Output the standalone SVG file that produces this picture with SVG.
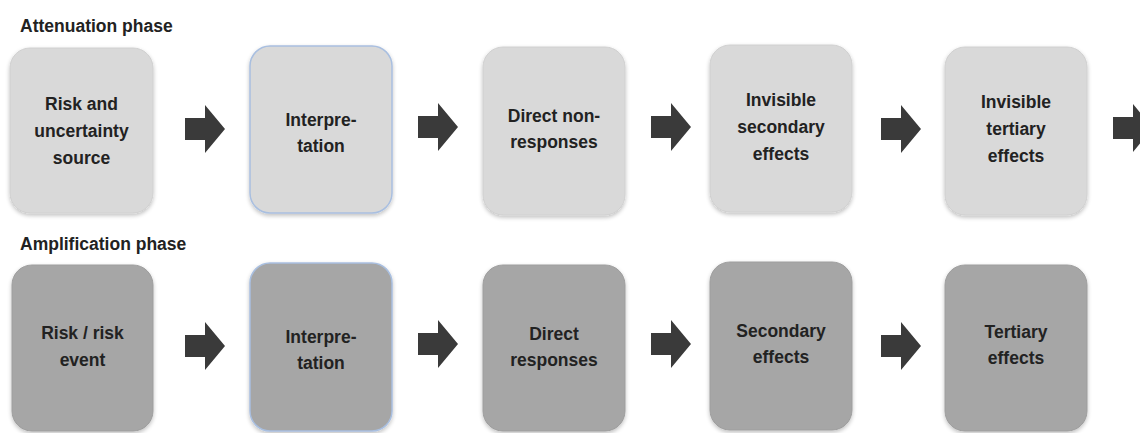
<svg xmlns="http://www.w3.org/2000/svg" width="1140" height="433" viewBox="0 0 1140 433">
<defs>
<filter id="sh" x="-10%" y="-10%" width="120%" height="125%">
<feGaussianBlur in="SourceAlpha" stdDeviation="2"/>
<feOffset dx="0" dy="2" result="b"/>
<feComponentTransfer><feFuncA type="linear" slope="0.25"/></feComponentTransfer>
<feMerge><feMergeNode/><feMergeNode in="SourceGraphic"/></feMerge>
</filter>
<path id="arr" d="M0,-11 H20 V-24 L40,0 L20,24 V11 H0 Z"/>
</defs>
<style>
.title{font-family:"Liberation Sans",Arial,sans-serif;font-weight:bold;font-size:17.5px;fill:#222}
.lbl{font-family:"Liberation Sans",Arial,sans-serif;font-weight:bold;font-size:17.5px;fill:#222;text-anchor:middle}
.lt{fill:#d9d9d9;stroke:#d0d0d0;stroke-width:1}
.dk{fill:#a6a6a6;stroke:#9e9e9e;stroke-width:1}
.blue{stroke:#a9bfe0;stroke-width:1.5}
.arrow{fill:#3a3a3a}
</style>
<rect width="1140" height="433" fill="#ffffff"/>
<text class="title" x="20" y="32">Attenuation phase</text>
<text class="title" x="20" y="250">Amplification phase</text>

<g id="a1"><rect class="lt" x="10" y="48" width="143" height="165" rx="20" filter="url(#sh)"/>
<text class="lbl" x="81.5" y="110">Risk and</text><text class="lbl" x="81.5" y="137">uncertainty</text><text class="lbl" x="81.5" y="164">source</text></g>
<g id="a2"><rect class="lt blue" x="250" y="46" width="142" height="167" rx="20" filter="url(#sh)"/>
<text class="lbl" x="321" y="126">Interpre-</text><text class="lbl" x="321" y="152">tation</text></g>
<g id="a3"><rect class="lt" x="483" y="47" width="142" height="168" rx="20" filter="url(#sh)"/>
<text class="lbl" x="554" y="122">Direct non-</text><text class="lbl" x="554" y="148">responses</text></g>
<g id="a4"><rect class="lt" x="710" y="45" width="142" height="167" rx="20" filter="url(#sh)"/>
<text class="lbl" x="781" y="106">Invisible</text><text class="lbl" x="781" y="133">secondary</text><text class="lbl" x="781" y="160">effects</text></g>
<g id="a5"><rect class="lt" x="945" y="47" width="142" height="168" rx="20" filter="url(#sh)"/>
<text class="lbl" x="1016" y="108">Invisible</text><text class="lbl" x="1016" y="135">tertiary</text><text class="lbl" x="1016" y="162">effects</text></g>

<g id="b1"><rect class="dk" x="12" y="265" width="141" height="166" rx="20" filter="url(#sh)"/>
<text class="lbl" x="82.5" y="339">Risk / risk</text><text class="lbl" x="82.5" y="366">event</text></g>
<g id="b2"><rect class="dk blue" x="250" y="263" width="142" height="168" rx="20" filter="url(#sh)"/>
<text class="lbl" x="321" y="343">Interpre-</text><text class="lbl" x="321" y="369">tation</text></g>
<g id="b3"><rect class="dk" x="483" y="265" width="142" height="166" rx="20" filter="url(#sh)"/>
<text class="lbl" x="554" y="340">Direct</text><text class="lbl" x="554" y="366">responses</text></g>
<g id="b4"><rect class="dk" x="710" y="262" width="142" height="168" rx="20" filter="url(#sh)"/>
<text class="lbl" x="781" y="337">Secondary</text><text class="lbl" x="781" y="363">effects</text></g>
<g id="b5"><rect class="dk" x="945" y="265" width="142" height="166" rx="20" filter="url(#sh)"/>
<text class="lbl" x="1016" y="338">Tertiary</text><text class="lbl" x="1016" y="364">effects</text></g>

<g id="connectors" class="arrow">
<use href="#arr" x="185" y="129"/>
<use href="#arr" x="418" y="127"/>
<use href="#arr" x="651" y="127"/>
<use href="#arr" x="881" y="129"/>
<use href="#arr" x="1113" y="128"/>
<use href="#arr" x="185" y="346"/>
<use href="#arr" x="418" y="344"/>
<use href="#arr" x="651" y="344"/>
<use href="#arr" x="881" y="346"/>
</g>
</svg>
